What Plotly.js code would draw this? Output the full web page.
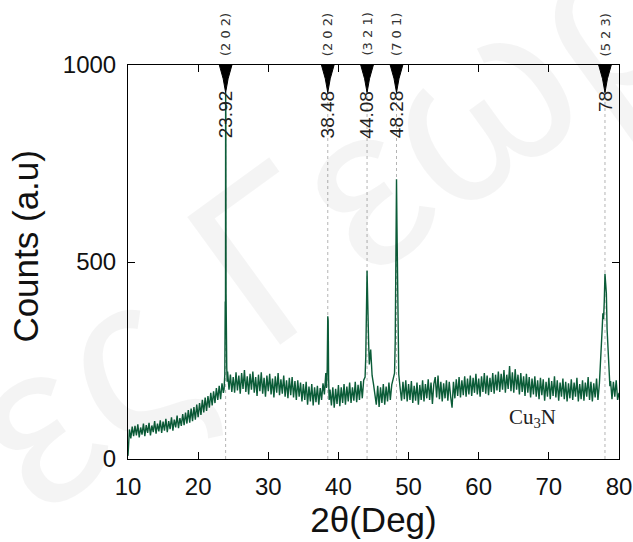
<!DOCTYPE html>
<html>
<head>
<meta charset="utf-8">
<script src="https://cdn.plot.ly/plotly-3.0.1.min.js"></script>
<style>
  html, body { margin: 0; padding: 0; background: #fff; }
  #chart { width: 633px; height: 542px; }
</style>
</head>
<body>
<div id="chart"></div>
<script>
// XRD scan of a Cu3N film: diffraction angle (2θ, degrees) and detector counts
const twoTheta = [
  10.0,10.2,10.4,10.6,10.8,
  11.0,11.2,11.4,11.6,11.8,
  12.0,12.2,12.4,12.6,12.8,
  13.0,13.2,13.4,13.6,13.8,
  14.0,14.2,14.4,14.6,14.8,
  15.0,15.2,15.4,15.6,15.8,
  16.0,16.2,16.4,16.6,16.8,
  17.0,17.2,17.4,17.6,17.8,
  18.0,18.2,18.4,18.6,18.8,
  19.0,19.2,19.4,19.6,19.8,
  20.0,20.2,20.4,20.6,20.8,
  21.0,21.2,21.4,21.6,21.8,
  22.0,22.2,22.4,22.6,22.8,
  23.0,23.2,23.4,23.6,
  23.7,23.8,23.86,23.9,23.92,23.95,23.98,24.02,24.08,24.14,
  24.2,24.4,24.6,24.8,
  25.0,25.2,25.4,25.6,25.8,
  26.0,26.2,26.4,26.6,26.8,
  27.0,27.2,27.4,27.6,27.8,
  28.0,28.2,28.4,28.6,28.8,
  29.0,29.2,29.4,29.6,29.8,
  30.0,30.2,30.4,30.6,30.8,
  31.0,31.2,31.4,31.6,31.8,
  32.0,32.2,32.4,32.6,32.8,
  33.0,33.2,33.4,33.6,33.8,
  34.0,34.2,34.4,34.6,34.8,
  35.0,35.2,35.4,35.6,35.8,
  36.0,36.2,36.4,36.6,36.8,
  37.0,37.2,37.4,37.6,37.8,
  38.0,38.2,38.3,38.4,38.48,38.54,38.6,38.68,38.8,
  39.0,39.2,39.4,39.6,39.8,
  40.0,40.2,40.4,40.6,40.8,
  41.0,41.2,41.4,41.6,41.8,
  42.0,42.2,42.4,42.6,42.8,
  43.0,43.2,43.4,43.6,43.8,
  43.9,43.96,44.02,44.08,44.14,44.2,44.3,44.4,44.5,44.6,44.7,44.8,45.0,45.2,
  45.4,45.6,45.8,
  46.0,46.2,46.4,46.6,46.8,
  47.0,47.2,47.4,47.6,47.8,
  48.0,48.1,48.18,48.24,48.28,48.34,48.4,48.46,48.52,48.6,48.8,
  49.0,49.2,49.4,49.6,49.8,
  50.0,50.2,50.4,50.6,50.8,
  51.0,51.2,51.4,51.6,51.8,
  52.0,52.2,52.4,52.6,52.8,
  53.0,53.2,53.4,53.6,53.8,
  54.0,54.2,54.4,54.6,54.8,
  55.0,55.2,55.4,55.6,55.8,
  56.0,56.2,56.4,56.6,56.8,
  57.0,57.2,57.4,57.6,57.8,
  58.0,58.2,58.4,58.6,58.8,
  59.0,59.2,59.4,59.6,59.8,
  60.0,60.2,60.4,60.6,60.8,
  61.0,61.2,61.4,61.6,61.8,
  62.0,62.2,62.4,62.6,62.8,
  63.0,63.2,63.4,63.6,63.8,
  64.0,64.2,64.4,64.6,64.8,
  65.0,65.2,65.4,65.6,65.8,
  66.0,66.2,66.4,66.6,66.8,
  67.0,67.2,67.4,67.6,67.8,
  68.0,68.2,68.4,68.6,68.8,
  69.0,69.2,69.4,69.6,69.8,
  70.0,70.2,70.4,70.6,70.8,
  71.0,71.2,71.4,71.6,71.8,
  72.0,72.2,72.4,72.6,72.8,
  73.0,73.2,73.4,73.6,73.8,
  74.0,74.2,74.4,74.6,74.8,
  75.0,75.2,75.4,75.6,75.8,
  76.0,76.2,76.4,76.6,76.8,
  77.0,77.2,77.35,77.5,77.6,77.7,77.8,77.9,78.0,78.1,78.2,78.3,78.4,78.5,78.6,78.7,
  78.8,79.0,79.2,79.4,79.6,79.8,80.0
];

const counts = [
  8,75,52,82,58,
  84,60,88,55,80,
  62,90,58,86,66,
  92,60,85,68,96,
  64,90,70,98,66,
  95,72,102,68,96,
  76,106,72,100,80,
  110,78,104,84,114,
  86,118,90,124,92,
  128,96,132,100,138,
  106,142,112,150,118,
  156,122,160,130,168,
  136,172,142,180,150,
  186,152,192,168,
  178,215,400,380,930,870,420,250,232,196,
  222,176,214,170,
  208,168,220,174,212,
  166,218,178,226,170,
  210,164,216,176,222,
  168,208,160,214,172,
  220,166,206,158,212,
  172,216,164,204,156,
  210,168,218,162,202,
  166,212,158,200,154,
  206,162,208,156,198,
  150,200,158,194,146,
  190,150,196,138,184,
  146,190,136,182,144,
  186,138,180,150,192,
  164,218,180,228,362,350,205,150,176,
  136,182,130,178,140,
  188,134,182,142,190,
  138,184,146,194,142,
  182,148,196,144,188,
  150,198,154,200,208,
  260,395,350,478,430,355,300,240,262,278,245,212,190,168,
  138,186,132,
  182,142,190,138,184,
  146,194,150,188,200,
  218,300,650,560,710,600,480,470,300,215,180,
  148,196,152,200,146,
  190,150,198,142,186,
  148,194,138,188,150,
  200,146,190,154,202,
  150,194,140,190,208,
  156,212,152,196,146,
  192,154,200,148,196,
  158,130,196,154,202,
  160,208,156,200,162,
  210,158,204,164,212,
  160,206,168,216,164,
  204,158,210,170,218,
  166,212,162,206,170,
  218,166,214,174,222,
  170,216,176,226,168,
  214,178,236,172,220,
  168,228,176,214,164,
  218,170,210,160,216,
  168,208,156,204,164,
  210,158,200,152,206,
  162,202,148,196,158,
  206,152,198,160,210,
  156,200,148,194,158,
  204,152,196,146,192,
  154,202,150,194,158,
  206,146,190,152,200,
  148,194,158,208,150,
  196,146,192,156,204,
  150,190,260,300,330,370,355,400,470,445,420,330,290,260,210,185,
  198,152,196,158,200,150,168
];

// Indexed reflections
const peakPositions = [23.92, 38.48, 44.08, 48.28, 78];
const peakLabels = ['23.92', '38.48', '44.08', '48.28', '78'];
const millerLabels = ['(2 0 2)', '(2 0 2)', '(3 2 1)', '(7 0 1)', '(5 2 3)'];

const xTicks = [10, 20, 30, 40, 50, 60, 70, 80];
const yTicks = [0, 500, 1000];

const LINE_GREEN = '#0b5c38';
const SANS = 'Liberation Sans, Arial, sans-serif';

const trace = {
  x: twoTheta,
  y: counts,
  type: 'scatter',
  mode: 'lines',
  line: { color: LINE_GREEN, width: 1.4 },
  hoverinfo: 'skip'
};

const shapes = [];
const annotations = [];

// faint background watermark (drawn first so everything else sits above it)
annotations.push({
  x: 0.40, xref: 'paper', y: 0.62, yref: 'paper',
  text: 'ες Γεωρ', textangle: -36, showarrow: false,
  font: { family: SANS, size: 230, color: 'rgba(0,0,0,0.045)' }
});

peakPositions.forEach((pos, i) => {
  // dotted guide from the baseline up to the marker
  shapes.push({
    type: 'line', xref: 'x', yref: 'paper',
    x0: pos, x1: pos, y0: 0, y1: 0.935,
    line: { color: '#b4b4b4', width: 1, dash: 'dot' },
    layer: 'below'
  });
  // downward marker hanging from the top frame
  shapes.push({
    type: 'path', xref: 'x', yref: 'paper',
    path: `M ${pos - 0.9},1 L ${pos + 0.9},1 L ${pos + 0.35},0.965 L ${pos},0.93 L ${pos - 0.35},0.965 Z`,
    fillcolor: '#000', line: { color: '#000', width: 1 }
  });
  annotations.push({
    x: pos, xref: 'x', y: 0.94, yref: 'paper',
    text: peakLabels[i], textangle: -90,
    xanchor: 'center', yanchor: 'top', showarrow: false,
    font: { family: SANS, size: 19, color: '#222' }
  });
  annotations.push({
    x: pos, xref: 'x', y: 1.018, yref: 'paper',
    text: millerLabels[i], textangle: -90,
    xanchor: 'center', yanchor: 'bottom', showarrow: false,
    font: { family: 'DejaVu Sans, sans-serif', size: 13, color: '#333' }
  });
});

annotations.push({
  x: 67.6, xref: 'x', y: 104, yref: 'y',
  text: 'Cu<sub>3</sub>N', showarrow: false,
  font: { family: 'Liberation Serif, serif', size: 21, color: '#222' }
});

// vertical axis title
annotations.push({
  x: -0.209, xref: 'paper', y: 0.54, yref: 'paper',
  text: 'Counts (a.u)', textangle: -90, showarrow: false,
  xanchor: 'center', yanchor: 'middle',
  font: { family: SANS, size: 35, color: '#111' }
});

const axisCommon = {
  showline: true, linecolor: '#000', linewidth: 1, mirror: 'ticks',
  ticks: 'inside', ticklen: 7, tickwidth: 1, tickcolor: '#000',
  showgrid: false, zeroline: false,
  tickfont: { family: SANS, size: 24, color: '#111' }
};

const layout = {
  width: 633, height: 542,
  margin: { l: 128, r: 14, t: 65, b: 83 },
  paper_bgcolor: '#fff', plot_bgcolor: '#fff',
  showlegend: false,
  xaxis: Object.assign({}, axisCommon, {
    range: [10, 80], tickvals: xTicks, ticktext: xTicks.map(String),
    ticklabelstandoff: 6,
    title: { text: '2θ(Deg)', font: { family: SANS, size: 35, color: '#111' }, standoff: 6 }
  }),
  yaxis: Object.assign({}, axisCommon, {
    range: [0, 1000], tickvals: yTicks, ticktext: yTicks.map(String),
    ticklabelstandoff: 6
  }),
  shapes: shapes,
  annotations: annotations
};

Plotly.newPlot('chart', [trace], layout, { displayModeBar: false, staticPlot: true });
</script>
</body>
</html>
